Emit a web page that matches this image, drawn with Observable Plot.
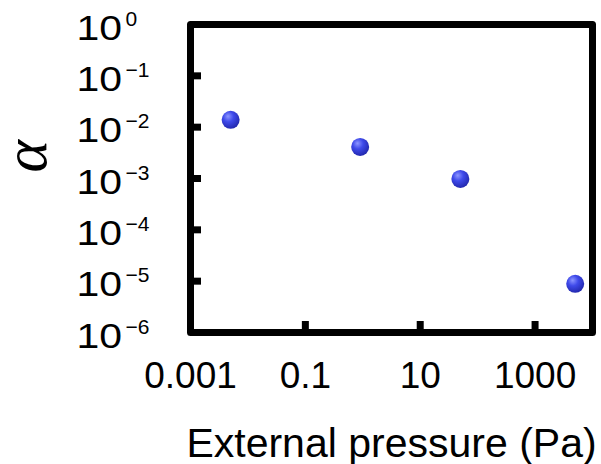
<!DOCTYPE html>
<html><head><meta charset="utf-8">
<script src="https://cdn.jsdelivr.net/npm/d3@7"></script>
<script src="https://cdn.jsdelivr.net/npm/@observablehq/plot@0.6"></script>
<style>body{margin:0;background:#fff} svg{display:block}</style>
</head><body><div id="chart"></div>
<script>
const pressure = [0.005, 0.9, 50, 5000];
const alpha = [0.0139, 0.00413, 0.00098, 0.0000089];
const xTicks = [0.001, 0.1, 10, 1000];
const xTickLabels = ["0.001", "0.1", "10", "1000"];
const yTicks = [1, 1e-1, 1e-2, 1e-3, 1e-4, 1e-5, 1e-6];
const yExponents = ["0", "−1", "−2", "−3", "−4", "−5", "−6"];
const xLabel = "External pressure (Pa)";
const yLabel = "α";

const data = pressure.map((p, i) => ({p, a: alpha[i]}));
const yLab = yTicks.map((v, i) => ({v, e: yExponents[i]}));
const xLab = xTicks.map((v, i) => ({v, t: xTickLabels[i]}));

const plot = Plot.plot({
  width: 601, height: 464,
  marginLeft: 190, marginRight: 9, marginTop: 24, marginBottom: 132,
  style: {fontFamily: "Liberation Sans, Arial, sans-serif", background: "white", color: "black"},
  x: {type: "log", domain: [0.001, 10000]},
  y: {type: "log", domain: [1e-6, 1]},
  marks: [
    Plot.axisX({ticks: xTicks.slice(1), tickSize: -11, strokeWidth: 7, tickFormat: () => "", label: null}),
    Plot.axisY({ticks: yTicks.slice(1, -1), tickSize: -11, strokeWidth: 7, tickFormat: () => "", label: null}),
    Plot.frame({stroke: "black", strokeWidth: 7, strokeLinejoin: "round"}),
    Plot.text(xLab, {x: "v", text: "t", frameAnchor: "bottom", lineAnchor: "bottom", dy: 55, fontSize: 37, fill: "black"}),
    Plot.text([xLabel], {frameAnchor: "bottom", lineAnchor: "bottom", dy: 124, fontSize: 41, fill: "black"}),
    Plot.text(yLab, {y: "v", text: () => "10", frameAnchor: "left", textAnchor: "start", lineAnchor: "bottom", dx: -114, dy: 15, fontSize: 35, fill: "black"}),
    Plot.text(yLab, {y: "v", text: "e", frameAnchor: "left", textAnchor: "start", lineAnchor: "bottom", dx: -65, dy: 1, fontSize: 21, fill: "black"}),
    Plot.text([yLabel], {frameAnchor: "left", rotate: -90, lineAnchor: "bottom", dx: -145, dy: -6, fontSize: 62, fontFamily: "Liberation Serif, serif", fontStyle: "italic", fill: "black"}),
    Plot.dot(data, {x: "p", y: "a", r: 9, fill: "url(#ball)", stroke: "none"})
  ]
});
plot.insertAdjacentHTML("afterbegin",
  '<defs><radialGradient id="ball" cx="0.4" cy="0.35" r="0.65" fx="0.35" fy="0.3">' +
  '<stop offset="0" stop-color="#8d96ff"/><stop offset="0.45" stop-color="#3f4aea"/>' +
  '<stop offset="1" stop-color="#2329b0"/></radialGradient></defs>');
// widen the "10" bases of the y tick labels horizontally, as in the reference
d3.select(plot).selectAll("text").filter(function () {
  return this.parentNode.getAttribute("font-size") === "35";
}).each(function () {
  const t = this.getAttribute("transform") || "";
  this.setAttribute("transform", t + " scale(1.17,1)");
});
document.getElementById("chart").appendChild(plot);
</script>
</body></html>
